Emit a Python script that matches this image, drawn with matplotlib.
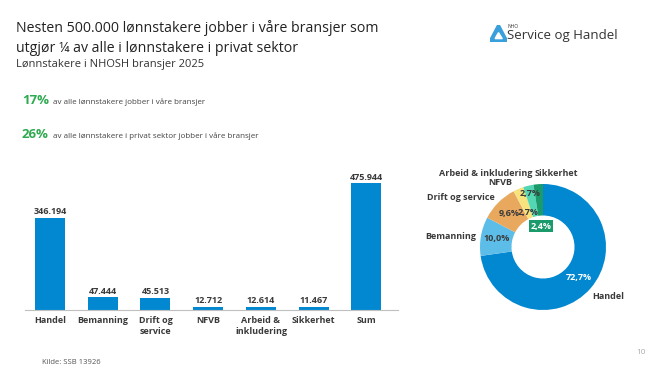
import numpy as np
import matplotlib
matplotlib.use("Agg")
import matplotlib.pyplot as plt
from matplotlib.patches import Polygon

plt.rcParams['font.family'] = ['Open Sans', 'DejaVu Sans']

# data
categories = ["Handel", "Bemanning", "Drift og\nservice", "NFVB",
              "Arbeid &\ninkludering", "Sikkerhet", "Sum"]
values = [346194, 47444, 45513, 12712, 12614, 11467, 475944]
pie_labels = ["Handel", "Bemanning", "Drift og service", "NFVB",
              "Arbeid & inkludering", "Sikkerhet"]
pie_values = values[:6]
pie_colors = ["#0288d1", "#5bbde8", "#e8a85e", "#f7e27e", "#52d6b4", "#1b9a6c"]

BLUE = "#0288d1"
DARK = "#3a3a3a"
GREEN = "#2eaa50"


def fmt(v):
    return f"{v:,}".replace(",", ".")


fig = plt.figure(figsize=(6.55, 3.68), dpi=100)

# titles
fig.text(16 / 655, 1 - 28 / 368, "Nesten 500.000 lønnstakere jobber i våre bransjer som",
         fontsize=10.2, color="#222222", va="center", ha="left")
fig.text(16 / 655, 1 - 48 / 368, "utgjør ¼ av alle i lønnstakere i privat sektor",
         fontsize=10.2, color="#222222", va="center", ha="left")
fig.text(16 / 655, 1 - 65 / 368, "Lønnstakere i NHOSH bransjer 2025",
         fontsize=8, color="#333333", va="center", ha="left")

fig.text(22 / 655, 1 - 101 / 368, "17%", fontsize=9.5, color=GREEN,
         fontweight="bold", va="center")
fig.text(53 / 655, 1 - 102 / 368, "av alle lønnstakere jobber i våre bransjer",
         fontsize=5.8, color="#444444", va="center")
fig.text(22 / 655, 1 - 135 / 368, "26%", fontsize=9.5, color=GREEN,
         fontweight="bold", va="center")
fig.text(53 / 655, 1 - 136 / 368, "av alle lønnstakere i privat sektor jobber i våre bransjer",
         fontsize=5.8, color="#444444", va="center")

# logo
lax = fig.add_axes([490 / 655, 1 - 42 / 368, 17 / 655, 17 / 368])
lax.set_xlim(0, 1)
lax.set_ylim(0, 1)
lax.axis("off")
lax.add_patch(Polygon([(0.5, 1.0), (1.0, 0.05), (0.0, 0.05)], closed=True,
                      facecolor="#3aa0dc", edgecolor="#3aa0dc", joinstyle="round", lw=2))
lax.add_patch(Polygon([(0.5, 0.55), (0.72, 0.2), (0.3, 0.2)], closed=True,
                      facecolor="white", edgecolor="white"))
fig.text(507 / 655, 1 - 27 / 368, "NHO", fontsize=3.5, color="#333333", va="center")
fig.text(507 / 655, 1 - 36 / 368, "Service og Handel", fontsize=9.5, color="#333333", va="center")

# bar chart
ax = fig.add_axes([25 / 655, 1 - 310 / 368, 373 / 655, 141 / 368])
x = np.arange(len(categories))
ax.bar(x, values, width=0.57, color=BLUE)
ax.set_xlim(-0.474, 6.60)
ax.set_ylim(0, 530000)
for xi, v in zip(x, values):
    ax.text(xi, v + 6000, fmt(v), ha="center", va="bottom", fontsize=6.5,
            fontweight="bold", color=DARK)
ax.set_xticks(x)
ax.set_xticklabels(categories, fontsize=6.5, fontweight="bold", color=DARK,
                   linespacing=1.4, va="top")
ax.tick_params(axis="x", length=0, pad=4)
ax.set_yticks([])
for s in ["top", "right", "left"]:
    ax.spines[s].set_visible(False)
ax.spines["bottom"].set_color("#bfbfbf")
ax.spines["bottom"].set_linewidth(0.8)

# donut
pax = fig.add_axes([480 / 655, 1 - 310 / 368, 126 / 655, 126 / 368])
wedges, _ = pax.pie(pie_values, colors=pie_colors, startangle=90, counterclock=False,
                    radius=1, wedgeprops=dict(width=0.5, edgecolor="none"))
pax.set_xlim(-1, 1)
pax.set_ylim(-1, 1)
pax.set_aspect("equal")

total = sum(pie_values)
shares = [v / total * 100 for v in pie_values]
cum = np.cumsum([0] + shares)
label_r = [0.75, 0.75, 0.75, 0.6, 0.87]
label_c = ["white", DARK, DARK, DARK, DARK]
for i in range(5):
    mid = 90 - (cum[i] + shares[i] / 2) * 3.6
    px = label_r[i] * np.cos(np.radians(mid))
    py = label_r[i] * np.sin(np.radians(mid))
    pax.text(px, py, f"{shares[i]:.1f}%".replace(".", ","), ha="center", va="center",
             fontsize=6.5, fontweight="bold", color=label_c[i])
pax.text(-0.03, 0.33, f"{shares[5]:.1f}%".replace(".", ","), ha="center", va="center",
         fontsize=6.5, fontweight="bold", color="white",
         bbox=dict(boxstyle="square,pad=0.15", facecolor=pie_colors[5], edgecolor="none"))

outside = [(1.03, -0.78, "center"), (-1.06, 0.17, "right"), (-0.76, 0.79, "right"),
           (-0.68, 1.02, "center"), (-0.17, 1.17, "right"), (-0.13, 1.17, "left")]
for (ox, oy, ha), lab in zip(outside, pie_labels):
    pax.text(ox, oy, lab, ha=ha, va="center", fontsize=6.5, fontweight="bold", color=DARK)

# footer
fig.text(42 / 655, 1 - 362 / 368, "Kilde: SSB 13926", fontsize=5.5, color="#555555", va="center")
fig.text(636 / 655, 1 - 352 / 368, "10", fontsize=6, color="#aaaaaa", va="center")

fig.savefig("out.png", dpi=100, facecolor="white")
